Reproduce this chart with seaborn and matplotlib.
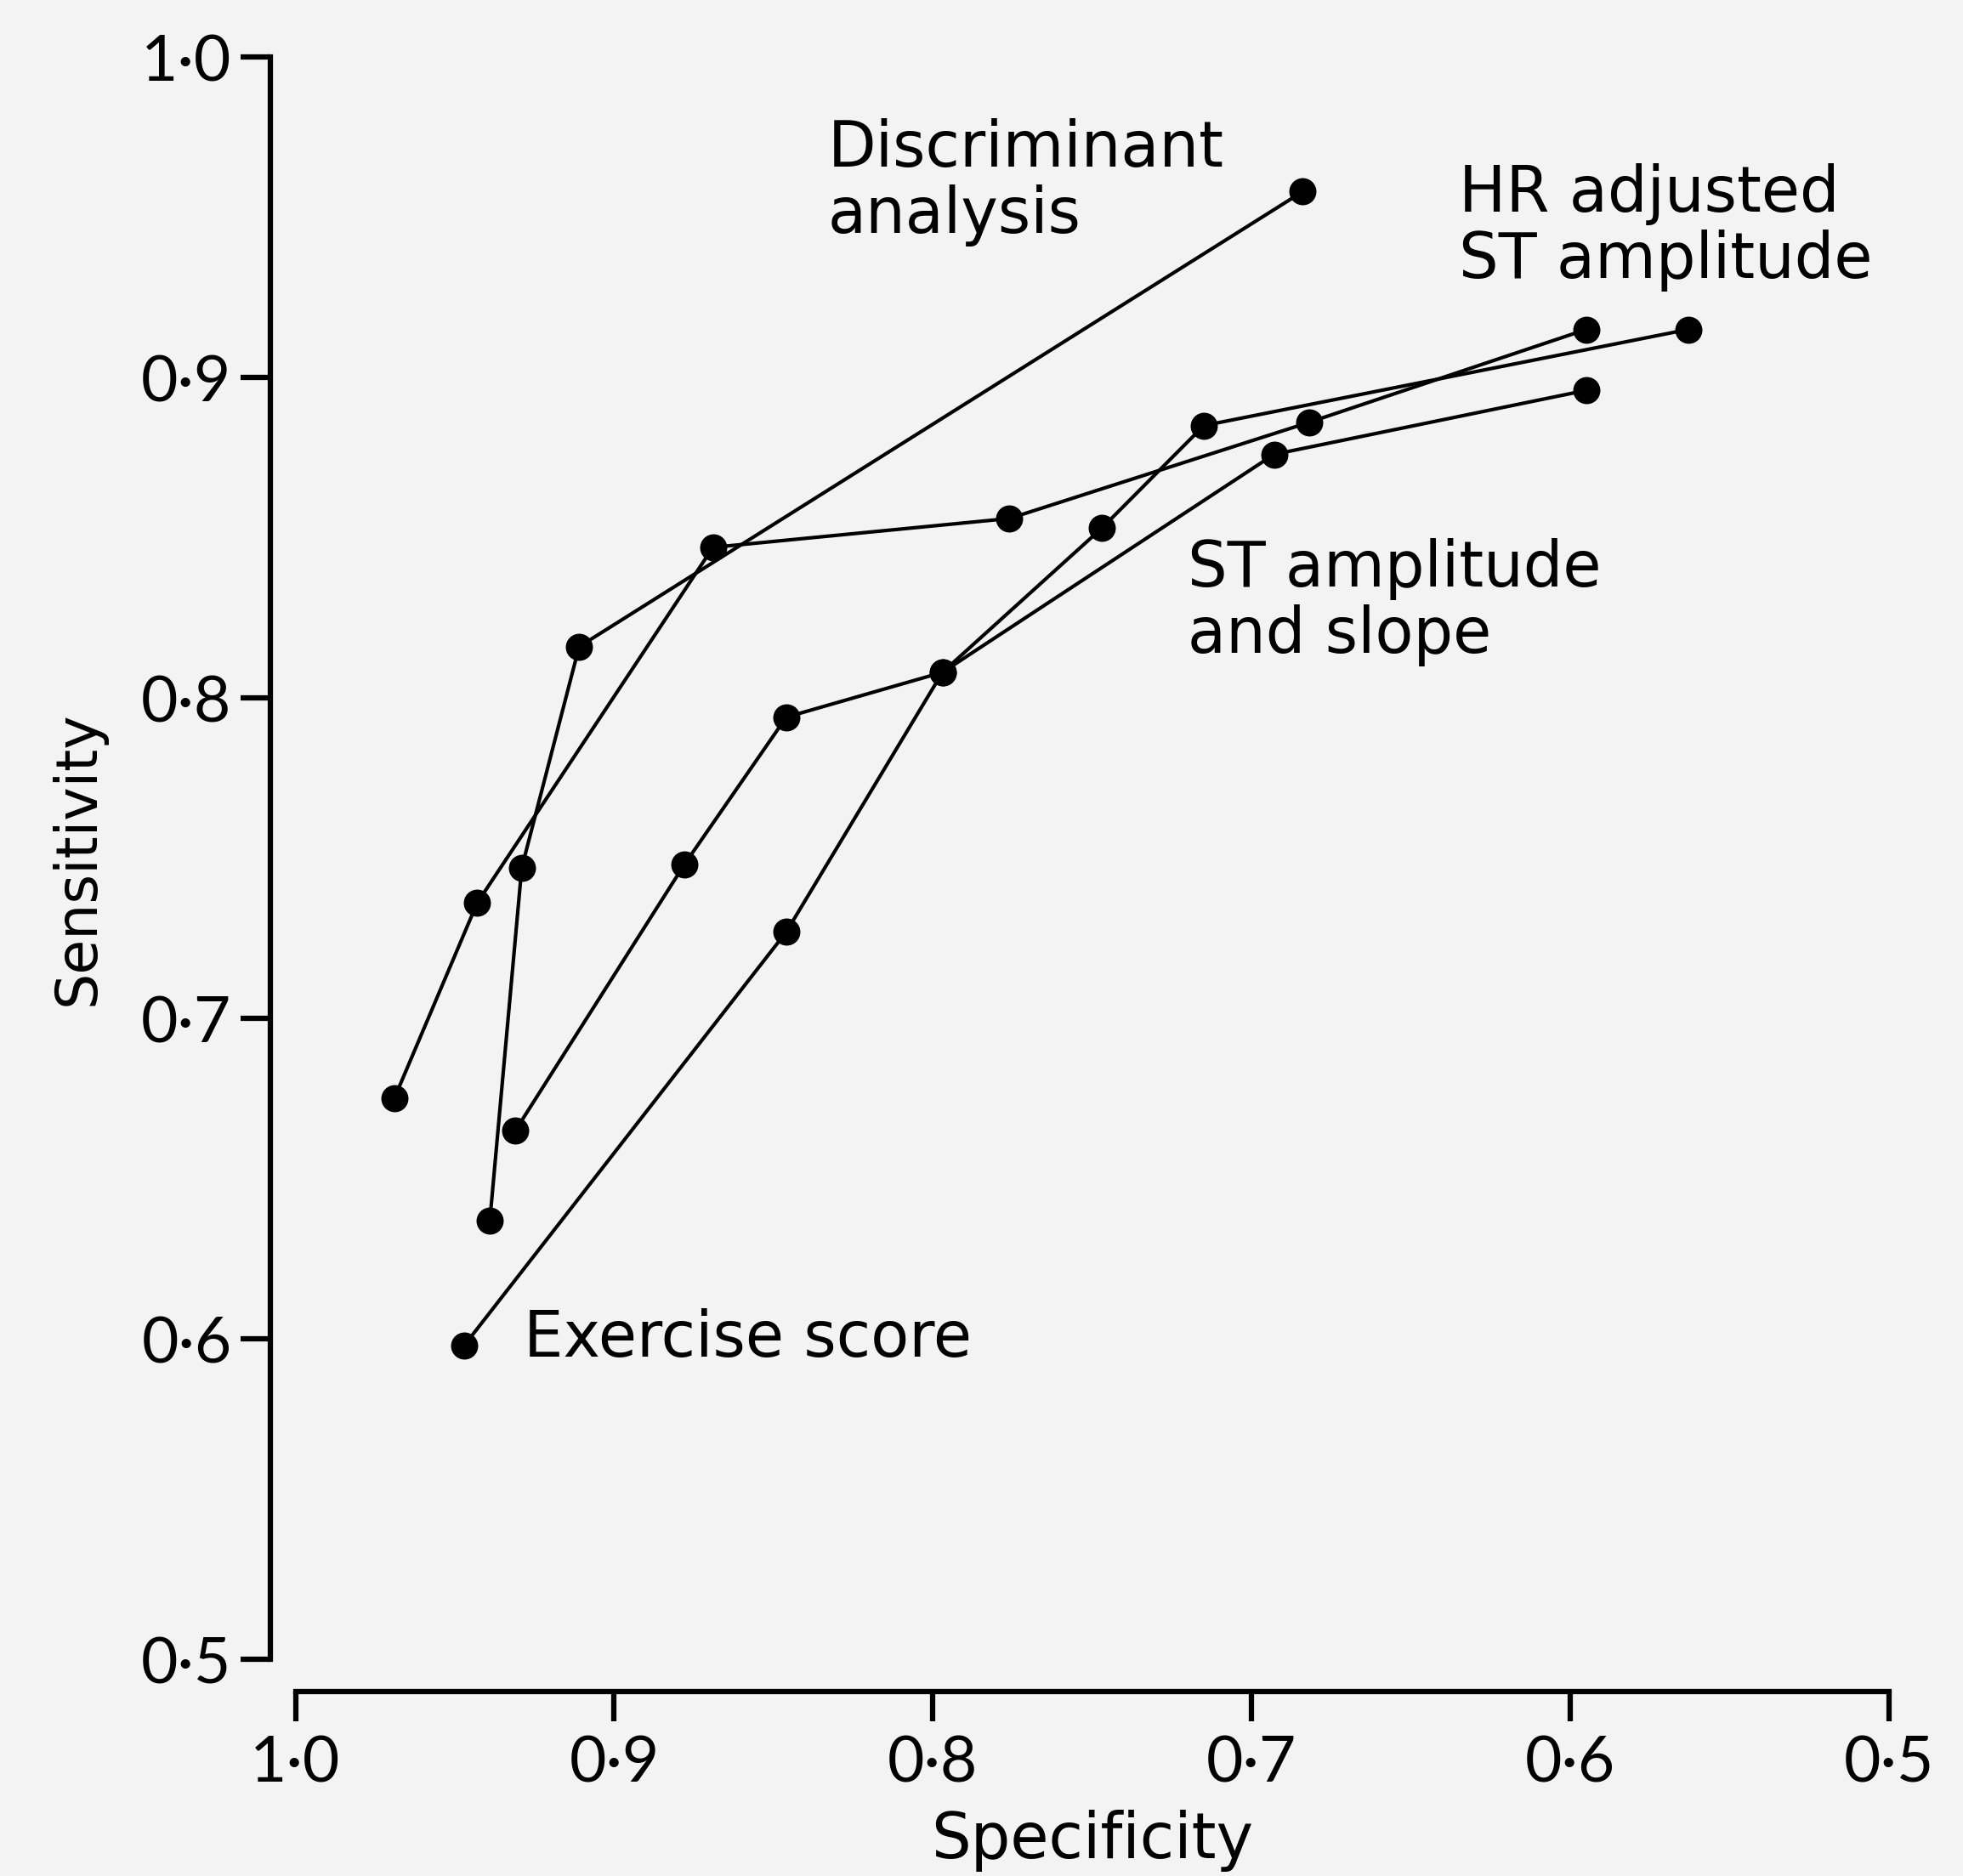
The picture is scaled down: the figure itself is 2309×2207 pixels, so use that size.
import matplotlib
matplotlib.use("Agg")
import matplotlib.pyplot as plt
import seaborn as sns
import pandas as pd

# ---- data (specificity, sensitivity) ----
hr_spec = [0.969, 0.943, 0.869, 0.776, 0.682, 0.595]
hr_sens = [0.675, 0.736, 0.847, 0.856, 0.886, 0.915]

disc_spec = [0.939, 0.929, 0.911, 0.684]
disc_sens = [0.637, 0.747, 0.816, 0.958]

slope_spec = [0.931, 0.878, 0.846, 0.797, 0.693, 0.595]
slope_sens = [0.665, 0.748, 0.794, 0.808, 0.876, 0.896]

ex_spec = [0.947, 0.846, 0.797, 0.747, 0.715, 0.563]
ex_sens = [0.598, 0.727, 0.808, 0.853, 0.885, 0.915]

x_ticks = [1.0, 0.9, 0.8, 0.7, 0.6, 0.5]
y_ticks = [0.5, 0.6, 0.7, 0.8, 0.9, 1.0]
x_ticklabels = ["1·0", "0·9", "0·8", "0·7", "0·6", "0·5"]
y_ticklabels = ["0·5", "0·6", "0·7", "0·8", "0·9", "1·0"]

series_names = ["HR adjusted ST amplitude", "Discriminant analysis",
                "ST amplitude and slope", "Exercise score"]

frames = []
for name, xs, ys in zip(series_names,
                        [hr_spec, disc_spec, slope_spec, ex_spec],
                        [hr_sens, disc_sens, slope_sens, ex_sens]):
    frames.append(pd.DataFrame({"spec": xs, "sens": ys, "series": name,
                                "order": range(len(xs))}))
df = pd.concat(frames, ignore_index=True)

sns.set_theme(style="ticks")
plt.rcParams["font.family"] = ["Lato", "DejaVu Sans"]

BG = "#f3f3f3"
fig = plt.figure(figsize=(23.09, 22.07), dpi=100, facecolor=BG)
ax = fig.add_axes([0.1505, 0.1155, 0.8119, 0.8541])
ax.set_facecolor(BG)

for name in series_names:
    sub = df[df["series"] == name]
    sns.lineplot(data=sub, x="spec", y="sens", sort=False, estimator=None,
                 color="black", linewidth=3.0, marker="o", markersize=23,
                 markeredgewidth=0, ax=ax, legend=False)

ax.set_xlim(1.0, 0.5)
ax.set_ylim(0.5, 1.0)
ax.set_xticks(x_ticks)
ax.set_xticklabels(x_ticklabels)
ax.set_yticks(y_ticks)
ax.set_yticklabels(y_ticklabels)

for s in ["top", "right"]:
    ax.spines[s].set_visible(False)
ax.spines["left"].set_position(("outward", 21))
ax.spines["bottom"].set_position(("outward", 27))
for s in ["left", "bottom"]:
    ax.spines[s].set_linewidth(4.5)
    ax.spines[s].set_color("black")

ax.tick_params(axis="both", which="major", length=25, width=4.5,
               color="black", labelsize=54, labelcolor="black")
ax.tick_params(axis="y", pad=8)
ax.tick_params(axis="x", pad=12)

lab_font = ["DejaVu Sans"]
ax.set_xlabel("Specificity", fontsize=53, labelpad=14, color="black",
              family=lab_font)
ax.set_ylabel("Sensitivity", fontsize=48, labelpad=30, color="black",
              family=lab_font)

txt_kw = dict(fontsize=53, color="black", ha="left", va="top",
              linespacing=1.1, family=lab_font)
ax.text(0.833, 0.981, "Discriminant\nanalysis", **txt_kw)
ax.text(0.635, 0.967, "HR adjusted\nST amplitude", **txt_kw)
ax.text(0.720, 0.850, "ST amplitude\nand slope", **txt_kw)
ax.text(0.9285, 0.600, "Exercise score", fontsize=53, color="black",
        ha="left", va="center", family=lab_font)

fig.savefig("out.png", dpi=100, facecolor=BG)
